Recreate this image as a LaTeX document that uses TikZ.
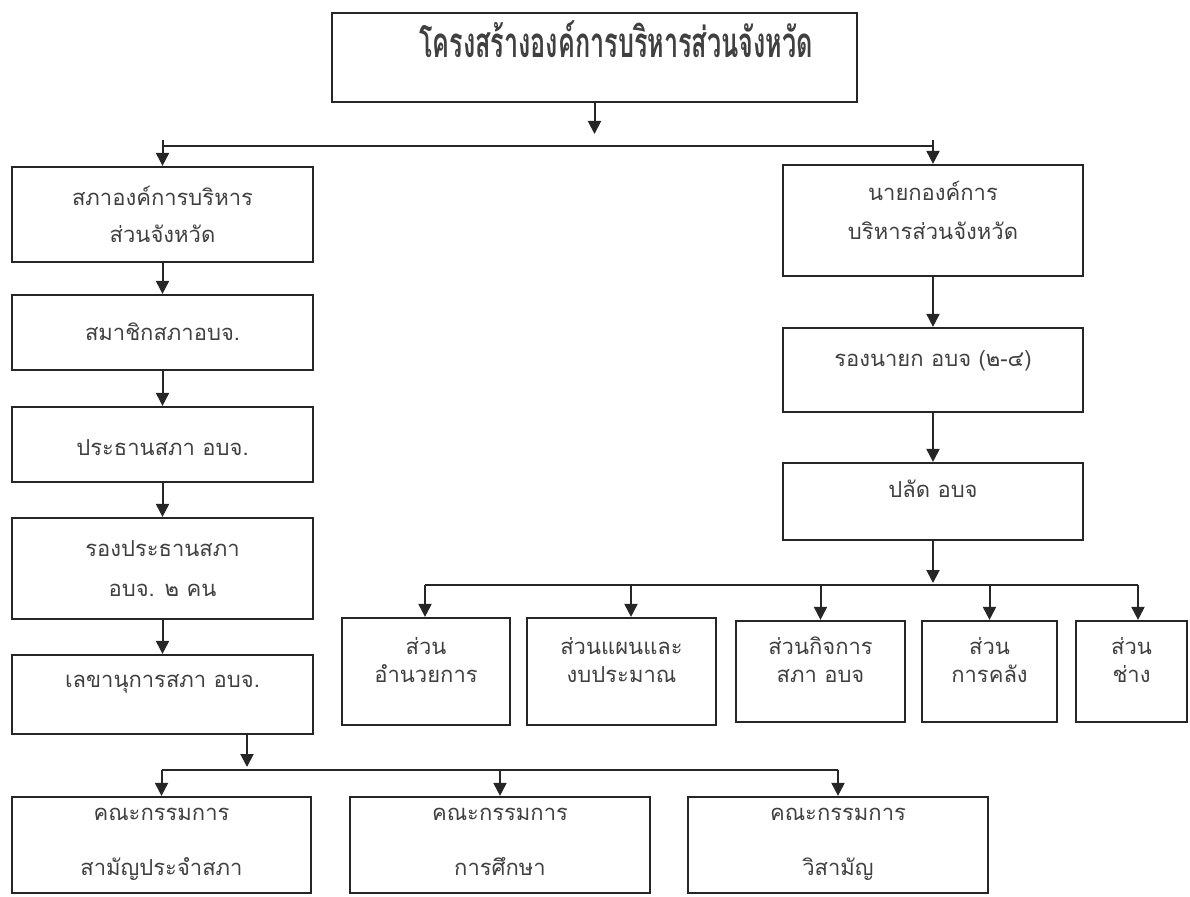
\documentclass[tikz,border=0pt]{standalone}
\usepackage{fontspec}
\newfontfamily\thaifont[Script=Thai]{Loma}
\newfontfamily\thaititle[Script=Thai,FakeStretch=0.6]{Loma}
\usetikzlibrary{arrows.meta}

% text lifted inside a box (amount in pt, positive = up)
\newcommand{\up}[2]{\raisebox{\dimexpr#1pt-5pt\relax}[0pt][0pt]{\begin{tabular}{@{}c@{}}#2\end{tabular}}}

\tikzset{
  box/.style={draw=black!85, line width=2.2pt, minimum width=301pt, inner sep=0pt,
    font=\thaifont\fontsize{22}{37}\selectfont, text=black!75},
  link/.style={-{Triangle[width=13pt,length=13pt]}, line width=2pt, draw=black!85},
  bus/.style={line width=2pt, draw=black!85}
}

\begin{document}
\begin{tikzpicture}[x=1pt,y=-1pt]
\useasboundingbox (0,0) rectangle (1190,896);

\node[box, minimum width=525pt, minimum height=89pt, font=\thaititle\bfseries\fontsize{42}{48}\selectfont] (t) at (594.5,57.5) {\up{10}{\hspace*{43pt}โครงสร้างองค์การบริหารส่วนจังหวัด}};

% left column
\node[box, minimum height=95pt] (l1) at (162.5,214.5) {\up{-2}{สภาองค์การบริหาร\\ส่วนจังหวัด}};
\node[box, minimum height=75pt] (l2) at (162.5,332.5) {\up{-1}{สมาชิกสภาอบจ.}};
\node[box, minimum height=75pt] (l3) at (162.5,444.5) {\up{-4}{ประธานสภา อบจ.}};
\node[box, minimum height=101pt] (l4) at (162.5,568.5) {\up{-0.5}{รองประธานสภา\\[3pt]อบจ. ๒ คน}};
\node[box, minimum height=79pt] (l5) at (162.5,694.5) {\up{14.5}{เลขานุการสภา อบจ.}};

% right column
\node[box, minimum width=300pt, minimum height=111pt] (r1) at (933,220.5) {\up{8}{นายกองค์การ\\[2pt]บริหารส่วนจังหวัด}};
\node[box, minimum width=300pt, minimum height=84pt] (r2) at (933,370) {\up{11}{รองนายก อบจ (๒-๔)}};
\node[box, minimum width=300pt, minimum height=77pt] (r3) at (933,501.5) {\up{11.5}{ปลัด อบจ}};

% divisions
\tikzset{unit/.style={box, minimum height=101pt, font=\thaifont\fontsize{22}{28}\selectfont}}
\node[unit, minimum width=168pt, minimum height=107pt] (d1) at (426,671.5) {\up{8.5}{ส่วน\\อำนวยการ}};
\node[unit, minimum width=189pt, minimum height=107pt] (d2) at (621.5,671.5) {\up{8.5}{ส่วนแผนและ\\งบประมาณ}};
\node[unit, minimum width=169pt] (d3) at (820.5,671.5) {\up{8.5}{ส่วนกิจการ\\สภา อบจ}};
\node[unit, minimum width=135pt] (d4) at (989.5,671.5) {\up{8.5}{ส่วน\\การคลัง}};
\node[unit, minimum width=111pt] (d5) at (1131.5,671.5) {\up{8.5}{ส่วน\\ช่าง}};

% committees
\node[box, minimum width=299pt, minimum height=96pt] (c1) at (161.5,845) {\up{4.5}{คณะกรรมการ\\[18pt]สามัญประจำสภา}};
\node[box, minimum width=300pt, minimum height=96pt] (c2) at (500,845) {\up{4.5}{คณะกรรมการ\\[18pt]การศึกษา}};
\node[box, minimum width=300pt, minimum height=96pt] (c3) at (838,845) {\up{4.5}{คณะกรรมการ\\[18pt]วิสามัญ}};

% top split
\coordinate (tb) at (594.5,134);
\coordinate (tl) at (162.5,146);
\coordinate (tr) at (933,146);
\draw[link] (t) -- (tb);
\draw[bus] (tl) -- (tr);
\draw[link] ([yshift=6pt]tl) -- (l1);
\draw[link] ([yshift=6pt]tr) -- (r1);

\draw[link] (l1) -- (l2);
\draw[link] (l2) -- (l3);
\draw[link] (l3) -- (l4);
\draw[link] (l4) -- (l5);

\draw[link] (r1) -- (r2);
\draw[link] (r2) -- (r3);

% split under the chief officer
\coordinate (rb) at (933,583);
\coordinate (dl) at (425,585);
\coordinate (dr) at (1138,585);
\coordinate (d2in) at ([xshift=9.5pt]d2.north);
\draw[link] (r3) -- (rb);
\draw[bus] (dl) -- (dr);
\draw[link] (dl) -- (dl |- d1.north);
\draw[link] (dl -| d2in) -- (d2in);
\draw[link] (dl -| d3.north) -- (d3);
\draw[link] (dl -| d4.north) -- (d4);
\draw[link] (dr) -- (dr |- d5.north);

% split under the secretary
\coordinate (lb) at (247,767);
\coordinate (bl) at (161.5,770);
\coordinate (br) at (838,770);
\draw[link] (l5.south -| lb) -- (lb);
\draw[bus] (bl) -- (br);
\draw[link] (bl) -- (c1);
\draw[link] (bl -| c2) -- (c2);
\draw[link] (br) -- (c3);
\end{tikzpicture}
\end{document}
